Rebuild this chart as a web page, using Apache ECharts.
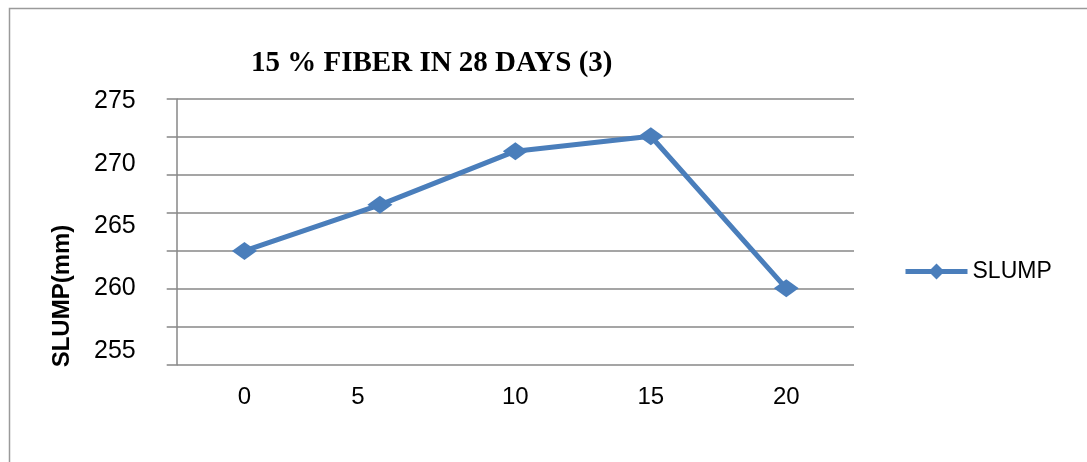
<!DOCTYPE html>
<html>
<head>
<meta charset="utf-8">
<script src="https://cdn.jsdelivr.net/npm/echarts@6/dist/echarts.min.js"></script>
<style>
html,body{margin:0;padding:0;background:#fff;}
#chart{width:1087px;height:462px;}
</style>
</head>
<body>
<div id="chart"></div>
<script>
const categories = ['0', '5', '10', '15', '20'];
const slump = [263, 266.7, 271, 272.2, 260];
const seriesName = 'SLUMP';
const titleText = '15 % FIBER IN 28 DAYS (3)';
const yAxisName = 'SLUMP(mm)';
const yMin = 255, yMax = 275, yStep = 5;

const narrow = "'Liberation Sans Narrow', 'Arial Narrow', 'Liberation Sans', sans-serif";
const gridColor = '#878787';
const lineColor = '#4a7ebb';

const chart = echarts.init(document.getElementById('chart'), null, {renderer: 'canvas'});
chart.setOption({
  backgroundColor: '#ffffff',
  animation: false,
  title: {
    text: titleText,
    left: 246,
    top: 44,
    textStyle: {fontFamily: "'Liberation Serif', 'Times New Roman', serif", fontWeight: 'bold', fontSize: 29, color: '#000'}
  },
  legend: {
    data: [seriesName],
    left: 898,
    top: 255,
    itemWidth: 62,
    itemHeight: 20,
    itemGap: 5,
    lineStyle: {width: 5},
    textStyle: {fontFamily: narrow, fontSize: 23, color: '#000'}
  },
  graphic: [
    {type: 'rect', shape: {x: 9.5, y: 8.5, width: 1200, height: 600}, style: {fill: 'none', stroke: '#9a9a9a', lineWidth: 1.5}, silent: true, z: -1},
    {type: 'text', x: 62, y: 296, rotation: Math.PI / 2, style: {text: yAxisName, fontFamily: narrow, fontWeight: 'bold', fontSize: 24, fill: '#000', textAlign: 'center', textVerticalAlign: 'middle'}}
  ],
  grid: [
    {left: 176.7, right: 233, top: 101.3, bottom: 111.3, containLabel: false},
    {left: 176.7, right: 233, top: 99, bottom: 97, containLabel: false}
  ],
  xAxis: [
    {gridIndex: 0, type: 'category', data: categories, boundaryGap: true, show: false},
    {gridIndex: 1, type: 'category', data: categories, boundaryGap: true,
     axisLine: {show: false}, axisTick: {show: false}, splitLine: {show: false},
     axisLabel: {
       margin: 20,
       fontFamily: narrow, fontSize: 24, color: '#000',
       formatter: function (v) { return v === '5' ? '{s|' + v + '}' : v; },
       rich: {s: {fontFamily: narrow, fontSize: 24, color: '#000', padding: [0, 44, 0, 0]}}
     }}
  ],
  yAxis: [
    {gridIndex: 0, type: 'value', min: yMin, max: yMax, interval: yStep,
     axisLine: {show: false}, axisTick: {show: false}, splitLine: {show: false},
     axisLabel: {margin: 41, fontFamily: narrow, fontSize: 25, color: '#000'}},
    {gridIndex: 1, type: 'value', min: 0, max: 7, interval: 1,
     axisLine: {show: true, lineStyle: {color: gridColor, width: 1.5}},
     axisTick: {show: true, inside: false, length: 10, lineStyle: {color: gridColor, width: 1.5}},
     axisLabel: {show: false},
     splitLine: {show: true, lineStyle: {color: gridColor, width: 1.5}}}
  ],
  series: [{
    name: seriesName,
    type: 'line',
    xAxisIndex: 0, yAxisIndex: 0,
    data: slump,
    symbol: 'diamond',
    symbolSize: [25, 18],
    lineStyle: {color: lineColor, width: 5},
    itemStyle: {color: lineColor},
    z: 5
  }]
});
</script>
</body>
</html>
